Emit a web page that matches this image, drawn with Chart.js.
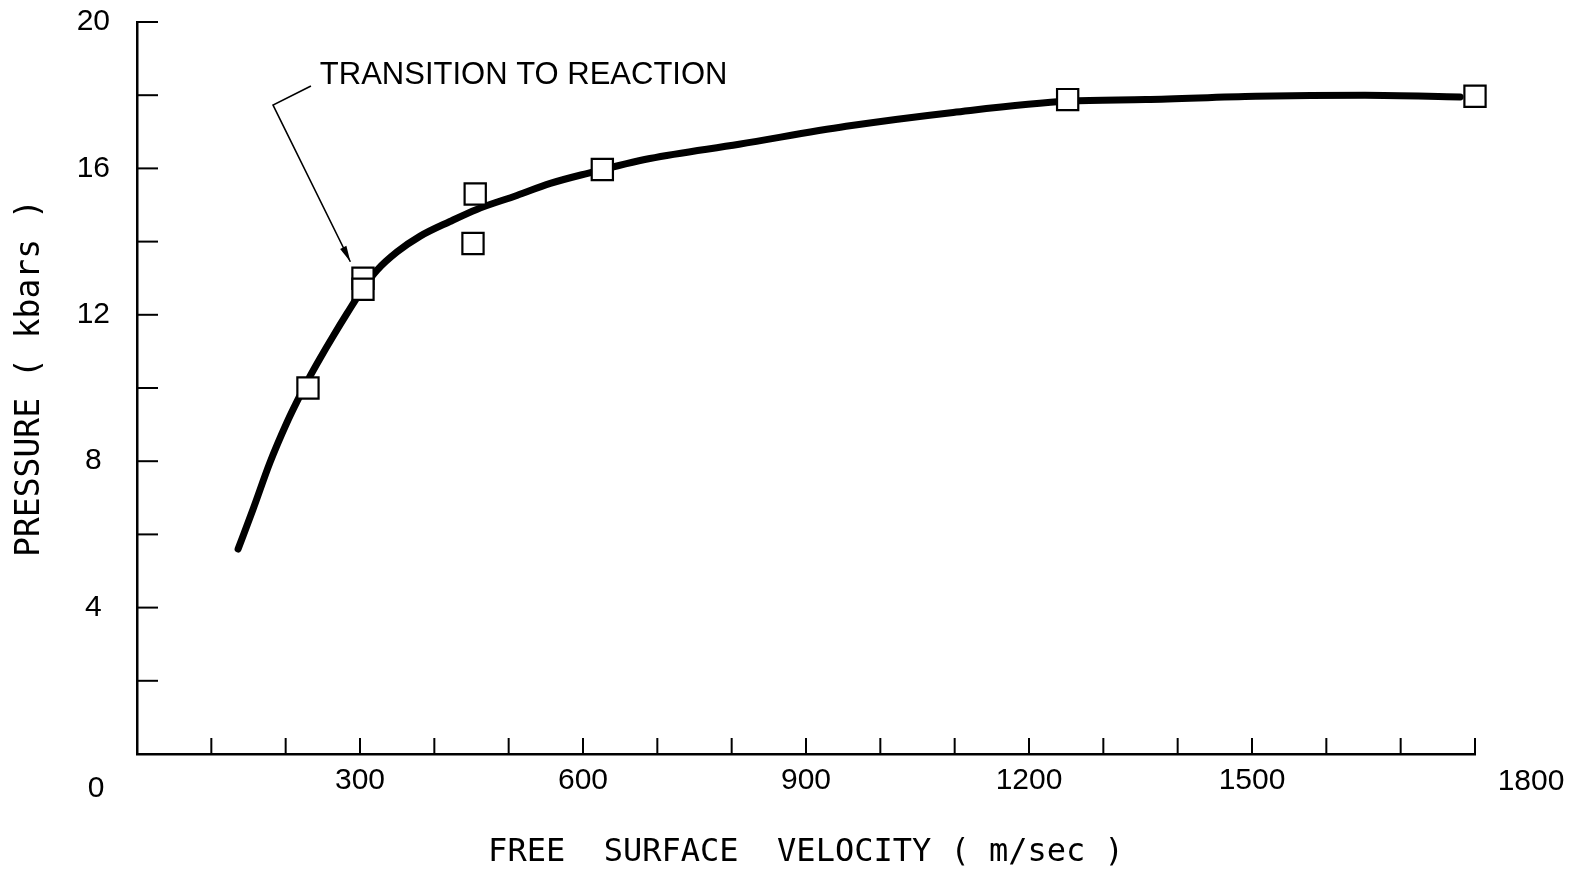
<!DOCTYPE html>
<html>
<head>
<meta charset="utf-8">
<title>Pressure vs free surface velocity</title>
<script src="https://cdn.jsdelivr.net/npm/chart.js@4.4.1/dist/chart.umd.min.js"></script>
<style>
  html, body { margin: 0; padding: 0; background: #fff; }
  canvas { display: block; }
</style>
</head>
<body>
<canvas id="graph" width="1573" height="872"></canvas>
<script>
// curve (m/sec, kbars)
const curvaX = [136, 156, 179, 202, 215, 233, 246, 264, 283, 304, 323, 350, 381, 421, 457, 511, 556, 605, 690, 810, 954, 1098, 1254, 1357, 1505, 1652, 1780];
const curvaY = [5.6, 6.68, 7.97, 9.07, 9.62, 10.33, 10.8, 11.42, 12.05, 12.72, 13.22, 13.72, 14.15, 14.55, 14.88, 15.26, 15.59, 15.86, 16.27, 16.66, 17.15, 17.53, 17.84, 17.88, 17.97, 18.0, 17.95];

// measured points (squares)
const puntosX = [230, 304, 304, 455, 452, 626, 1252, 1800];
const puntosY = [10.0, 13.0, 12.7, 15.3, 13.95, 15.97, 17.88, 17.97];

// tick labels
const etiquetasX = [300, 600, 900, 1200, 1500];
const etiquetasY = [4, 8, 12, 16, 20];

// annotation text and leader line (data units)
const notaTexto = 'TRANSITION TO REACTION';
const notaPos = [246, 18.3];
const notaLineaX = [234, 183, 287];
const notaLineaY = [18.25, 17.73, 13.45];

const fuenteNum = "'Liberation Sans', Arial, sans-serif";
const fuenteMono = "'DejaVu Sans Mono', 'Liberation Mono', monospace";

const curva = curvaX.map((x, i) => ({ x: x, y: curvaY[i] }));
const puntos = puntosX.map((x, i) => ({ x: x, y: puntosY[i] }));

// ticks hacia adentro, el "0" compartido, el 1800 y la nota
const extras = {
  id: 'extras',
  afterDraw(chart) {
    const ctx = chart.ctx;
    const xs = chart.scales.x;
    const ys = chart.scales.y;
    ctx.save();
    ctx.strokeStyle = '#000';
    ctx.fillStyle = '#000';
    ctx.lineWidth = 2;
    xs.ticks.forEach((t) => {
      if (t.value === 0) return;
      const px = xs.getPixelForValue(t.value);
      ctx.beginPath();
      ctx.moveTo(px, ys.bottom);
      ctx.lineTo(px, ys.bottom - 16);
      ctx.stroke();
    });
    ys.ticks.forEach((t) => {
      if (t.value === 0) return;
      const py = ys.getPixelForValue(t.value);
      ctx.beginPath();
      ctx.moveTo(xs.left, py);
      ctx.lineTo(xs.left + 21, py);
      ctx.stroke();
    });

    ctx.font = '30px ' + fuenteNum;
    ctx.textBaseline = 'middle';
    ctx.textAlign = 'center';
    ctx.fillText('0', xs.left - 41, ys.bottom + 35);
    ctx.fillText('1800', xs.getPixelForValue(1800) + 56, ys.bottom + 28);

    // nota
    ctx.font = '31px ' + fuenteNum;
    ctx.textAlign = 'left';
    ctx.textBaseline = 'alphabetic';
    ctx.fillText(notaTexto, xs.getPixelForValue(notaPos[0]), ys.getPixelForValue(notaPos[1]));

    const lx = notaLineaX.map((v) => xs.getPixelForValue(v));
    const ly = notaLineaY.map((v) => ys.getPixelForValue(v));
    ctx.lineWidth = 1.6;
    ctx.beginPath();
    ctx.moveTo(lx[0], ly[0]);
    for (let i = 1; i < lx.length; i++) ctx.lineTo(lx[i], ly[i]);
    ctx.stroke();
    // punta de flecha
    const n = lx.length - 1;
    const ang = Math.atan2(ly[n] - ly[n - 1], lx[n] - lx[n - 1]);
    const largo = 16, ancho = 3.5;
    ctx.beginPath();
    ctx.moveTo(lx[n], ly[n]);
    ctx.lineTo(lx[n] - largo * Math.cos(ang) - ancho * Math.sin(ang), ly[n] - largo * Math.sin(ang) + ancho * Math.cos(ang));
    ctx.lineTo(lx[n] - largo * Math.cos(ang) + ancho * Math.sin(ang), ly[n] - largo * Math.sin(ang) - ancho * Math.cos(ang));
    ctx.closePath();
    ctx.fill();
    ctx.restore();
  }
};

const config = {
  type: 'line',
  data: {
    datasets: [
      {
        label: 'datos',
        type: 'scatter',
        data: puntos,
        pointStyle: 'rect',
        pointRadius: 15,
        pointBorderWidth: 2.2,
        pointBorderColor: '#000',
        pointBackgroundColor: '#fff',
        showLine: false,
        clip: false,
        order: 0,
      },
      {
        label: 'curva',
        data: curva,
        borderColor: '#000',
        borderWidth: 7,
        borderCapStyle: 'round',
        borderJoinStyle: 'round',
        cubicInterpolationMode: 'monotone',
        pointRadius: 0,
        fill: false,
        order: 1,
      }
    ]
  },
  options: {
    responsive: false,
    animation: false,
    layout: { padding: { top: 22, right: 98, left: 0, bottom: 0 } },
    plugins: { legend: { display: false }, tooltip: { enabled: false } },
    scales: {
      x: {
        type: 'linear',
        min: 0,
        max: 1800,
        afterFit: (scale) => { scale.height = 118; },
        border: { display: true, color: '#000', width: 2.5 },
        grid: { display: false, drawTicks: false },
        ticks: {
          stepSize: 100,
          autoSkip: false,
          maxRotation: 0,
          padding: 9,
          color: '#000',
          font: { family: fuenteNum, size: 30 },
          callback: (v) => etiquetasX.includes(v) ? String(v) : '',
        },
        title: {
          display: true,
          text: 'FREE  SURFACE  VELOCITY ( m/sec )',
          color: '#000',
          font: { family: fuenteMono, size: 32 },
          padding: { top: 0, bottom: 0 },
        }
      },
      y: {
        type: 'linear',
        min: 0,
        max: 20,
        afterFit: (scale) => {
          scale.width = 137;
          scale.paddingTop = 0;
          scale.paddingBottom = 0;
        },
        border: { display: true, color: '#000', width: 2.5 },
        grid: { display: false, drawTicks: false },
        ticks: {
          stepSize: 2,
          autoSkip: false,
          crossAlign: 'center',
          padding: 27,
          color: '#000',
          font: { family: fuenteNum, size: 30 },
          callback: (v) => etiquetasY.includes(v) ? String(v) : '',
        },
        title: {
          display: true,
          text: ' PRESSURE ( kbars )',
          color: '#000',
          font: { family: fuenteMono, size: 33 },
          padding: { top: 11, bottom: 0 },
        }
      }
    }
  },
  plugins: [extras]
};

new Chart(document.getElementById('graph'), config);
</script>
</body>
</html>
